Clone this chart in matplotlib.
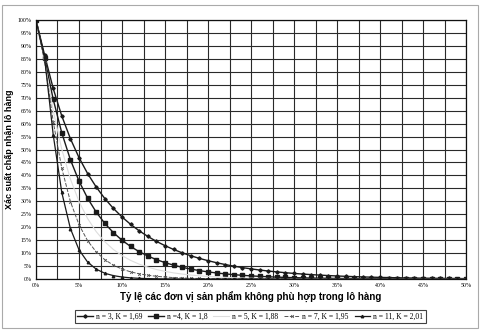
import matplotlib.pyplot as plt
from matplotlib.ticker import MultipleLocator, FuncFormatter
from matplotlib.patches import Rectangle

# Proportion nonconforming in the lot (%)
p = [0, 1, 2, 3, 4, 5, 6, 7, 8, 9, 10, 11, 12, 13, 14, 15, 16, 17, 18, 19, 20,
     21, 22, 23, 24, 25, 26, 27, 28, 29, 30, 31, 32, 33, 34, 35, 36, 37, 38, 39, 40,
     41, 42, 43, 44, 45, 46, 47, 48, 49, 50]

# Probability of acceptance (%) for each sampling plan
pa_n3 = [100, 86.48, 73.57, 62.95, 54.19, 46.89, 40.74, 35.53, 31.08, 27.26, 23.97,
         21.11, 18.62, 16.45, 14.55, 12.88, 11.42, 10.12, 8.99, 7.98, 7.09,
         6.30, 5.60, 4.97, 4.42, 3.93, 3.49, 3.10, 2.76, 2.45, 2.17,
         1.93, 1.71, 1.52, 1.35, 1.19, 1.05, 0.93, 0.82, 0.73, 0.64,
         0.57, 0.50, 0.44, 0.38, 0.34, 0.30, 0.26, 0.23, 0.20, 0.17]
pa_n4 = [100, 85.37, 69.41, 56.42, 46.07, 37.82, 31.19, 25.84, 21.48, 17.92, 14.99,
         12.57, 10.56, 8.90, 7.50, 6.34, 5.36, 4.54, 3.84, 3.26, 2.76,
         2.35, 1.99, 1.69, 1.44, 1.22, 1.04, 0.88, 0.75, 0.63, 0.54,
         0.46, 0.39, 0.33, 0.28, 0.23, 0.20, 0.17, 0.14, 0.12, 0.10,
         0.09, 0.07, 0.06, 0.05, 0.04, 0.04, 0.03, 0.03, 0.02, 0.02]
pa_n5 = [100, 84.09, 65.11, 50.07, 38.63, 29.95, 23.36, 18.31, 14.41, 11.40, 9.04,
         7.20, 5.75, 4.60, 3.69, 2.96, 2.38, 1.92, 1.55, 1.25, 1.01,
         0.82, 0.66, 0.54, 0.43, 0.35, 0.28, 0.23, 0.18, 0.15, 0.12,
         0.10, 0.08, 0.06, 0.05, 0.04, 0.03, 0.03, 0.02, 0.02, 0.01,
         0.01, 0.01, 0.01, 0, 0, 0, 0, 0, 0, 0]
pa_n7 = [100, 84.03, 60.81, 42.74, 29.90, 20.98, 14.79, 10.48, 7.47, 5.35, 3.85,
         2.78, 2.02, 1.47, 1.07, 0.78, 0.57, 0.42, 0.31, 0.23, 0.17,
         0.12, 0.09, 0.07, 0.05, 0.04, 0.03, 0.02, 0.02, 0.01, 0.01,
         0, 0, 0, 0, 0, 0, 0, 0, 0, 0,
         0, 0, 0, 0, 0, 0, 0, 0, 0, 0]
pa_n11 = [100, 85.29, 55.76, 33.41, 19.49, 11.30, 6.56, 3.82, 2.24, 1.32, 0.79,
          0.47, 0.28, 0.17, 0.10, 0.06, 0.04, 0.02, 0.01, 0.01, 0,
          0, 0, 0, 0, 0, 0, 0, 0, 0, 0,
          0, 0, 0, 0, 0, 0, 0, 0, 0, 0,
          0, 0, 0, 0, 0, 0, 0, 0, 0, 0]

labels = ['n = 3, K = 1,69', 'n =4, K = 1,8', 'n = 5, K = 1,88',
          'n = 7, K = 1,95', 'n = 11, K = 2,01']

fig = plt.figure(figsize=(4.83, 3.33), dpi=100)
fig.patch.set_facecolor('white')
# faint outer frame around the whole chart
fig.patches.append(Rectangle((0.004, 0.015), 0.985, 0.97, transform=fig.transFigure,
                             fill=False, edgecolor='#aaaaaa', lw=0.8))

ax = fig.add_axes([0.0745, 0.162, 0.8905, 0.778])

ax.plot(p, pa_n3, color='#1a1a1a', lw=1.0, marker='D', ms=1.7, label=labels[0])
ax.plot(p, pa_n4, color='#1a1a1a', lw=1.0, marker='s', ms=2.2, label=labels[1])
ax.plot(p, pa_n5, color='#dddddd', lw=0.8, label=labels[2])
ax.plot(p, pa_n7, color='#555555', lw=0.7, ls=(0, (4, 1.5)), marker='x', ms=2.0,
        mew=0.6, label=labels[3])
ax.plot(p, pa_n11, color='#1a1a1a', lw=0.9, marker='^', ms=1.8, label=labels[4])

ax.set_xlim(0, 50)
ax.set_ylim(0, 100)
ax.xaxis.set_major_locator(MultipleLocator(5))
ax.xaxis.set_minor_locator(MultipleLocator(2.5))
ax.yaxis.set_major_locator(MultipleLocator(5))
pct = FuncFormatter(lambda v, pos: '%d%%' % round(v))
ax.xaxis.set_major_formatter(pct)
ax.yaxis.set_major_formatter(pct)

ax.grid(which='both', axis='x', color='#2a2a2a', lw=0.8)
ax.grid(which='major', axis='y', color='#2a2a2a', lw=0.8)
ax.set_axisbelow(True)
for s in ax.spines.values():
    s.set_color('#111111')
    s.set_linewidth(0.9)

ax.tick_params(which='both', length=0, labelsize=4.2, pad=3)
for t in ax.get_xticklabels() + ax.get_yticklabels():
    t.set_fontfamily('Liberation Serif')

ax.set_xlabel('Tỷ lệ các đơn vị sản phẩm không phù hợp trong lô hàng',
              fontsize=7, fontweight='bold', fontfamily='Liberation Sans', labelpad=3)
ax.set_ylabel('Xác suất chấp nhận lô hàng', fontsize=6.5, fontweight='bold',
              fontfamily='Liberation Sans', labelpad=2)
ax.yaxis.set_label_coords(-0.05, 0.5)

leg = fig.legend(loc='center', bbox_to_anchor=(0.518, 0.05), ncol=5,
                 prop={'family': 'Liberation Serif', 'size': 5.5}, frameon=True,
                 fancybox=False, edgecolor='#111111', handlelength=2.0,
                 handletextpad=0.4, columnspacing=0.8, borderpad=0.35)
leg.get_frame().set_linewidth(0.8)

fig.savefig('out.png', dpi=100, facecolor='white')
